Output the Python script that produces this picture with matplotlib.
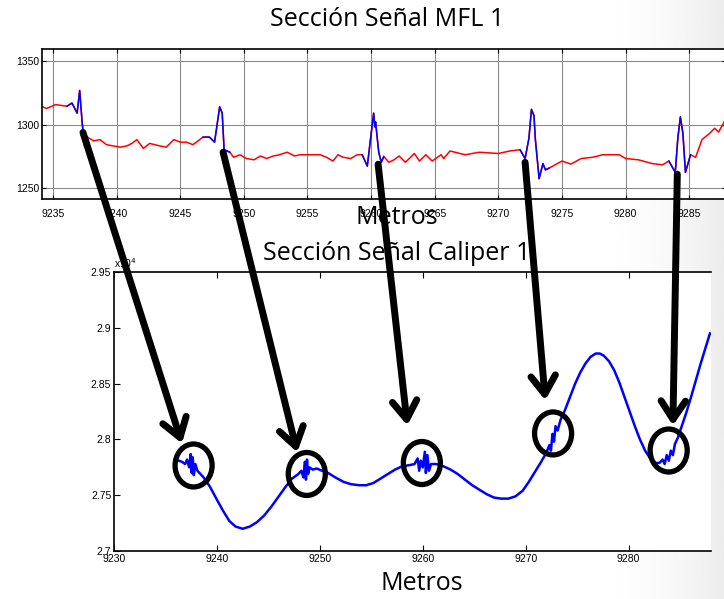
import numpy as np
import matplotlib
matplotlib.use("Agg")
import matplotlib.pyplot as plt
from matplotlib.patches import ConnectionPatch, Ellipse, ArrowStyle

# MFL signal section (metres, raw counts)
mfl_x = [9234.1, 9234.5, 9235.2, 9236.1, 9236.5, 9236.9, 9237.1, 9237.3, 9237.5, 9237.7,
         9238.2, 9238.7, 9239.2, 9239.75, 9240.3, 9240.8, 9241.2, 9241.6, 9242.1, 9242.6,
         9243.4, 9243.9, 9244.5, 9245.0, 9245.5, 9246.0, 9246.8, 9247.3, 9247.7, 9248.1,
         9248.3, 9248.45, 9248.9, 9249.2, 9249.7, 9250.2, 9250.8, 9251.3, 9251.8, 9252.3,
         9252.8, 9253.4, 9254.0, 9254.4, 9255.2, 9256.0, 9256.5, 9257.0, 9257.4, 9257.8,
         9258.4, 9258.9, 9259.3, 9259.7, 9259.95, 9260.2, 9260.3, 9260.35, 9260.6, 9260.8,
         9261.0, 9261.4, 9261.8, 9262.2, 9262.7, 9263.0, 9263.4, 9263.8, 9264.3, 9264.8,
         9265.5, 9265.7, 9266.2, 9267.4, 9268.5, 9270.0, 9270.9, 9271.7, 9272.1, 9272.4,
         9272.6, 9272.8, 9272.9, 9273.2, 9273.5, 9273.7, 9274.0, 9275.0, 9275.7, 9276.5,
         9277.4, 9278.2, 9279.5, 9280.0, 9281.0, 9282.1, 9282.9, 9283.4, 9283.9, 9284.1,
         9284.3, 9284.5, 9284.7, 9285.1, 9285.5, 9286.0, 9286.6, 9287.0, 9287.3, 9287.8]
mfl_y = [1314.5, 1312.7, 1315.8, 1314.5, 1317, 1309, 1327, 1301, 1282, 1290,
         1287, 1288, 1284, 1283, 1282, 1283, 1285, 1288, 1281, 1285,
         1283, 1282, 1288, 1286, 1286, 1284, 1290, 1290, 1286, 1314,
         1309, 1280, 1278, 1274, 1276, 1273, 1272, 1275, 1273, 1275,
         1276, 1278, 1275, 1276, 1276, 1276, 1274, 1271, 1276, 1274,
         1273, 1276, 1276, 1267, 1288, 1309, 1298, 1302, 1278, 1270,
         1274.6, 1270, 1272, 1275, 1270, 1273, 1277, 1271, 1276, 1271,
         1276, 1273, 1279, 1276, 1278, 1277, 1279, 1280, 1273, 1289,
         1312, 1307, 1289, 1257, 1269, 1264, 1265.5, 1271, 1268.6, 1273,
         1274, 1276, 1276, 1273, 1272, 1269, 1268, 1271, 1262, 1289,
         1306, 1293, 1262, 1276, 1274, 1288, 1293, 1297, 1294, 1303]

# stretches flagged as anomalies (drawn in blue over the red trace)
anomaly_windows = [(9236.1, 9237.7), (9246.8, 9248.9), (9259.3, 9261.0),
                   (9271.7, 9274.0), (9283.4, 9285.1)]

# caliper signal section (metres, x10^4)
cal_x = [9236.3, 9236.6, 9236.9, 9237.1, 9237.3, 9237.45, 9237.55, 9237.65, 9237.75, 9237.9,
         9238.1, 9238.3, 9238.7, 9239.3, 9240.0, 9240.6, 9241.2, 9241.8, 9242.5, 9243.2,
         9243.9, 9244.6, 9245.3, 9246.0, 9246.7, 9247.3, 9247.9, 9248.2, 9248.4, 9248.55,
         9248.65, 9248.75, 9248.85, 9249.0, 9249.3, 9249.7, 9250.2, 9250.8, 9251.5, 9252.3,
         9253.0, 9253.8, 9254.5, 9255.2, 9255.9, 9256.6, 9257.3, 9258.0, 9258.7, 9259.2,
         9259.5, 9259.65, 9259.8, 9260.0, 9260.2, 9260.3, 9260.45, 9260.6, 9260.8, 9261.3,
         9262.0, 9262.7, 9263.4, 9264.1, 9264.8, 9265.5, 9266.2, 9266.9, 9267.6, 9268.3,
         9269.0, 9269.7, 9270.3, 9270.9, 9271.5, 9272.0, 9272.3, 9272.45, 9272.6, 9272.75,
         9272.9, 9273.1, 9273.4, 9273.8, 9274.3, 9274.8, 9275.3, 9275.8, 9276.3, 9276.8,
         9277.2, 9277.6, 9278.1, 9278.6, 9279.1, 9279.6, 9280.1, 9280.6, 9281.1, 9281.6,
         9282.1, 9282.6, 9283.0, 9283.3, 9283.5, 9283.7, 9283.9, 9284.1, 9284.3, 9284.5,
         9284.8, 9285.2, 9285.6, 9286.0, 9286.5, 9287.0, 9287.5, 9287.9]
cal_y = [2.781, 2.780, 2.778, 2.782, 2.775, 2.787, 2.770, 2.784, 2.768, 2.778,
         2.772, 2.770, 2.766, 2.758, 2.746, 2.736, 2.727, 2.722, 2.720, 2.722,
         2.726, 2.732, 2.740, 2.749, 2.758, 2.765, 2.769, 2.772, 2.766, 2.780,
         2.764, 2.782, 2.769, 2.775, 2.773, 2.774, 2.772, 2.770, 2.766, 2.762,
         2.760, 2.759, 2.759, 2.761, 2.765, 2.769, 2.773, 2.776, 2.777, 2.778,
         2.783, 2.772, 2.781, 2.775, 2.789, 2.770, 2.786, 2.772, 2.778, 2.778,
         2.776, 2.773, 2.769, 2.764, 2.759, 2.755, 2.751, 2.748, 2.747, 2.747,
         2.749, 2.754, 2.762, 2.771, 2.780, 2.788, 2.795, 2.790, 2.805, 2.798,
         2.812, 2.808, 2.818, 2.826, 2.838, 2.850, 2.860, 2.868, 2.874, 2.877,
         2.877, 2.875, 2.870, 2.862, 2.851, 2.838, 2.825, 2.812, 2.800, 2.790,
         2.783, 2.779, 2.779, 2.782, 2.778, 2.786, 2.781, 2.790, 2.786, 2.796,
         2.802, 2.813, 2.824, 2.836, 2.852, 2.868, 2.883, 2.895]

# arrow from each MFL indication to the matching caliper response
arrow_from = [(9237.36, 1293.7), (9248.37, 1278.0), (9260.55, 1268.5),
              (9272.1, 1270.0), (9284.06, 1260.6)]
arrow_to = [(9236.6, 2.7964), (9247.8, 2.7884), (9258.5, 2.8125),
            (9271.9, 2.835), (9284.3, 2.8125)]
ring_centres = [(9237.73, 2.7767), (9248.73, 2.7691), (9259.91, 2.7789),
                (9272.66, 2.8054), (9283.89, 2.7901)]

mfl_xticks = [9235, 9240, 9245, 9250, 9255, 9260, 9265, 9270, 9275, 9280, 9285]
mfl_yticks = [1250, 1300, 1350]
cal_xticks = [9230, 9240, 9250, 9260, 9270, 9280]
cal_yticks = [2.7, 2.75, 2.8, 2.85, 2.9, 2.95]

tick_font = ['Liberation Sans Narrow', 'Liberation Sans', 'DejaVu Sans']
title_font = ['Open Sans', 'DejaVu Sans']

fig = plt.figure(figsize=(7.24, 5.99), dpi=100)

# light slide background fading to grey on the right
bg = fig.add_axes([0, 0, 1, 1], zorder=-10)
fade = np.linspace(0, 1, 400)
grad = 1.0 - 0.075 * np.clip((fade - 0.8) / 0.2, 0, 1) ** 2.2
bg.imshow(np.tile(grad, (2, 1)), cmap='gray', vmin=0, vmax=1, aspect='auto',
          extent=[0, 1, 0, 1])
bg.set_axis_off()

# --- MFL panel ---
ax1 = fig.add_axes([0.058, 0.668, 0.945, 0.2504])
xm = np.array(mfl_x)
ym = np.array(mfl_y)
ax1.plot(xm, ym, color='#ff0000', lw=1.1)
for a, b in anomaly_windows:
    sel = (xm >= a) & (xm <= b)
    ax1.plot(xm[sel], ym[sel], color='#0000ff', lw=1.1)
ax1.set_xlim(9234.14, 9287.9)
ax1.set_ylim(1241, 1360)
ax1.set_xticks(mfl_xticks)
ax1.set_yticks(mfl_yticks)
ax1.grid(True, color='#8a8a8a', lw=0.8)
ax1.tick_params(direction='in', length=3, top=True, right=True, width=0.8,
                labelsize=7.5, pad=2)
ax1.tick_params(axis='x', pad=7)
for lbl in ax1.get_xticklabels() + ax1.get_yticklabels():
    lbl.set_family(tick_font)
for s in ax1.spines.values():
    s.set_linewidth(1.2)

# --- caliper panel ---
ax2 = fig.add_axes([0.1575, 0.080, 0.8245, 0.4658])
ax2.plot(cal_x, cal_y, color='#0000ff', lw=1.8)
ax2.set_xlim(9230, 9288)
ax2.set_ylim(2.7, 2.95)
ax2.set_xticks(cal_xticks)
ax2.set_yticks(cal_yticks)
ax2.set_yticklabels(['2.7', '2.75', '2.8', '2.85', '2.9', '2.95'])
ax2.tick_params(direction='in', length=4, top=True, width=0.8, labelsize=7.5, pad=2)
for lbl in ax2.get_xticklabels() + ax2.get_yticklabels():
    lbl.set_family(tick_font)
ax2.spines['right'].set_visible(False)
for s in ['left', 'bottom', 'top']:
    ax2.spines[s].set_linewidth(1.2)
ax2.text(0.0, 1.006, r'x10$^4$', transform=ax2.transAxes, fontsize=7.5,
         family=tick_font, ha='left', va='bottom')

for cx, cy in ring_centres:
    ax2.add_patch(Ellipse((cx, cy), 3.6, 0.0385, fill=False, ec='black', lw=3.8,
                          clip_on=False, zorder=5))

head = ArrowStyle('->', head_length=0.6, head_width=0.4)
for (x0, y0), (x1, y1) in zip(arrow_from, arrow_to):
    con = ConnectionPatch(xyA=(x0, y0), coordsA=ax1.transData,
                          xyB=(x1, y1), coordsB=ax2.transData,
                          arrowstyle=head, mutation_scale=22, lw=5,
                          color='black', shrinkA=0, shrinkB=0, zorder=6)
    fig.add_artist(con)

# slide captions
fig.text(0.535, 0.968, 'Sección Señal MFL 1', ha='center', va='center',
         fontsize=18, family=title_font)
fig.text(0.548, 0.637, 'Metros', ha='center', va='center', fontsize=18,
         family=title_font)
fig.text(0.548, 0.577, 'Sección Señal Caliper 1', ha='center', va='center',
         fontsize=18, family=title_font)
fig.text(0.583, 0.026, 'Metros', ha='center', va='center', fontsize=18,
         family=title_font)

fig.savefig('out.png', dpi=100)
